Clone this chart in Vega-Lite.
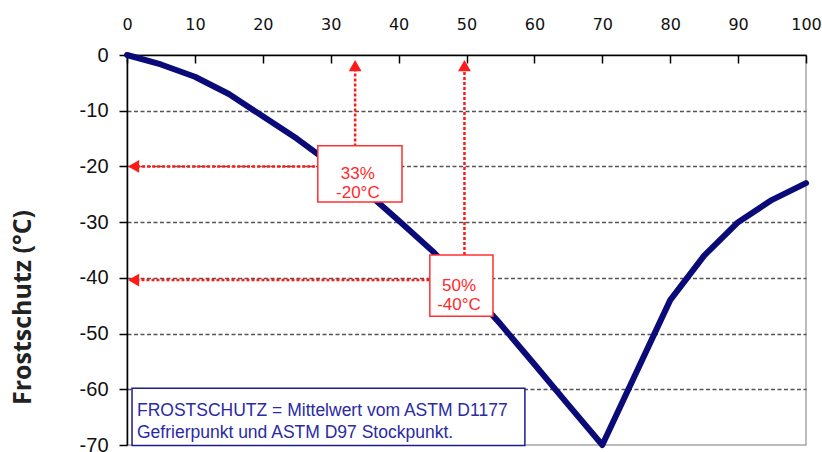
{
  "$schema": "https://vega.github.io/schema/vega-lite/v6.json",
  "width": 679,
  "height": 390,
  "autosize": "none",
  "padding": {"left": 127, "top": 55, "right": 16, "bottom": 7},
  "background": "white",
  "config": {
    "view": {"stroke": "#a6a6a6", "strokeWidth": 1.5},
    "text": {"lineBreak": "\n"}
  },
  "datasets": {
    "curve": [
      {"x": 0, "y": 0}, {"x": 5, "y": -1.7}, {"x": 10, "y": -3.9}, {"x": 15, "y": -7},
      {"x": 20, "y": -11}, {"x": 25, "y": -15}, {"x": 30, "y": -19.5}, {"x": 35, "y": -24.3},
      {"x": 40, "y": -29.7}, {"x": 45, "y": -35.2}, {"x": 50, "y": -41.5}, {"x": 55, "y": -48.3},
      {"x": 60, "y": -55.5}, {"x": 65, "y": -62.8}, {"x": 70, "y": -70}, {"x": 80, "y": -44},
      {"x": 85, "y": -36}, {"x": 90, "y": -30}, {"x": 95, "y": -26}, {"x": 100, "y": -23}
    ],
    "arrows": [
      {"x": 33.6, "y": -20, "x2": 1.5, "y2": -20},
      {"x": 33.6, "y": -20, "x2": 33.6, "y2": -2.5},
      {"x": 49.7, "y": -40.4, "x2": 1.5, "y2": -40.4},
      {"x": 49.7, "y": -40.4, "x2": 49.7, "y2": -2.5}
    ],
    "headsLeft": [{"x": 0.97, "y": -20}, {"x": 0.97, "y": -40.4}],
    "headsUp": [{"x": 33.6, "y": -1.9}, {"x": 49.7, "y": -1.9}],
    "boxes": [
      {"x": 28.1, "x2": 40.5, "y": -16.3, "y2": -26.4, "x_": 34.0, "y_": -21.3, "label": "33%\n-20°C"},
      {"x": 44.6, "x2": 53.9, "y": -35.9, "y2": -46.9, "x_": 48.9, "y_": -41.4, "label": "50%\n-40°C"}
    ],
    "note": [
      {"x": 0.74, "x2": 58.6, "y": -59.8, "y2": -70.1, "x_": 1.47, "y_": -63.9,
       "label": "FROSTSCHUTZ = Mittelwert vom ASTM D1177\nGefrierpunkt und ASTM D97 Stockpunkt."}
    ]
  },
  "layer": [
    {
      "data": {"name": "curve"},
      "mark": {"type": "line", "color": "#0a0a78", "strokeWidth": 6, "strokeJoin": "round", "strokeCap": "round"},
      "encoding": {
        "x": {
          "field": "x", "type": "quantitative",
          "scale": {"domain": [0, 100], "nice": false, "zero": false},
          "axis": {
            "orient": "top", "values": [0,10,20,30,40,50,60,70,80,90,100],
            "title": null, "grid": false, "labelFlush": false,
            "domainColor": "#000000", "domainWidth": 1.5,
            "tickColor": "#000000", "tickWidth": 1.5, "tickSize": -8,
            "labelPadding": 31, "labelFont": "DejaVu Sans",
            "labelFontSize": 16, "labelColor": "#111111"
          }
        },
        "y": {
          "field": "y", "type": "quantitative",
          "scale": {"domain": [-70, 0], "nice": false, "zero": false},
          "axis": {
            "values": [0,-10,-20,-30,-40,-50,-60,-70],
            "labelExpr": "datum.value + ''",
            "title": "Frostschutz (°C)",
            "titleFont": "Open Sans", "titleFontWeight": "bold", "titleFontSize": 25,
            "titleColor": "#222222", "titleX": -105, "titleY": 252,
            "titleAlign": "center", "titleBaseline": "middle", "titleAngle": 270,
            "grid": true, "gridColor": "#555555", "gridWidth": 1.5, "gridDash": [4, 2.5],
            "gridOpacity": {"condition": {"test": "datum.value == 0 || datum.value == -70", "value": 0}, "value": 1},
            "domainColor": "#000000", "domainWidth": 1.5,
            "tickColor": "#000000", "tickWidth": 1.5, "tickSize": 8,
            "labelPadding": 11, "labelFont": "Liberation Sans", "labelFontSize": 20, "labelColor": "#111111"
          }
        }
      }
    },
    {
      "data": {"name": "arrows"},
      "mark": {"type": "rule", "color": "#ff1a1a", "strokeWidth": 2.5, "strokeDash": [3, 2]},
      "encoding": {
        "x": {"field": "x", "type": "quantitative"},
        "x2": {"field": "x2"},
        "y": {"field": "y", "type": "quantitative"},
        "y2": {"field": "y2"}
      }
    },
    {
      "data": {"name": "headsLeft"},
      "mark": {"type": "point", "shape": "triangle-left", "filled": true, "color": "#ff1a1a", "size": 165, "opacity": 1},
      "encoding": {
        "x": {"field": "x", "type": "quantitative"},
        "y": {"field": "y", "type": "quantitative"}
      }
    },
    {
      "data": {"name": "headsUp"},
      "mark": {"type": "point", "shape": "triangle-up", "filled": true, "color": "#ff1a1a", "size": 165, "opacity": 1},
      "encoding": {
        "x": {"field": "x", "type": "quantitative"},
        "y": {"field": "y", "type": "quantitative"}
      }
    },
    {
      "data": {"name": "boxes"},
      "mark": {"type": "rect", "fill": "white", "stroke": "#ff3030", "strokeWidth": 1.5},
      "encoding": {
        "x": {"field": "x", "type": "quantitative"},
        "x2": {"field": "x2"},
        "y": {"field": "y", "type": "quantitative"},
        "y2": {"field": "y2"}
      }
    },
    {
      "data": {"name": "boxes"},
      "mark": {"type": "text", "color": "#ff2a2a", "font": "Liberation Sans", "fontSize": 17, "lineHeight": 19, "align": "center", "baseline": "middle"},
      "encoding": {
        "x": {"field": "x_", "type": "quantitative"},
        "y": {"field": "y_", "type": "quantitative"},
        "text": {"field": "label"}
      }
    },
    {
      "data": {"name": "note"},
      "mark": {"type": "rect", "fill": "white", "stroke": "#1c1c8c", "strokeWidth": 1.5},
      "encoding": {
        "x": {"field": "x", "type": "quantitative"},
        "x2": {"field": "x2"},
        "y": {"field": "y", "type": "quantitative"},
        "y2": {"field": "y2"}
      }
    },
    {
      "data": {"name": "note"},
      "mark": {"type": "text", "color": "#2a2aa5", "font": "Liberation Sans", "fontSize": 17.5, "lineHeight": 22, "align": "left", "baseline": "middle"},
      "encoding": {
        "x": {"field": "x_", "type": "quantitative"},
        "y": {"field": "y_", "type": "quantitative"},
        "text": {"field": "label"}
      }
    }
  ]
}
